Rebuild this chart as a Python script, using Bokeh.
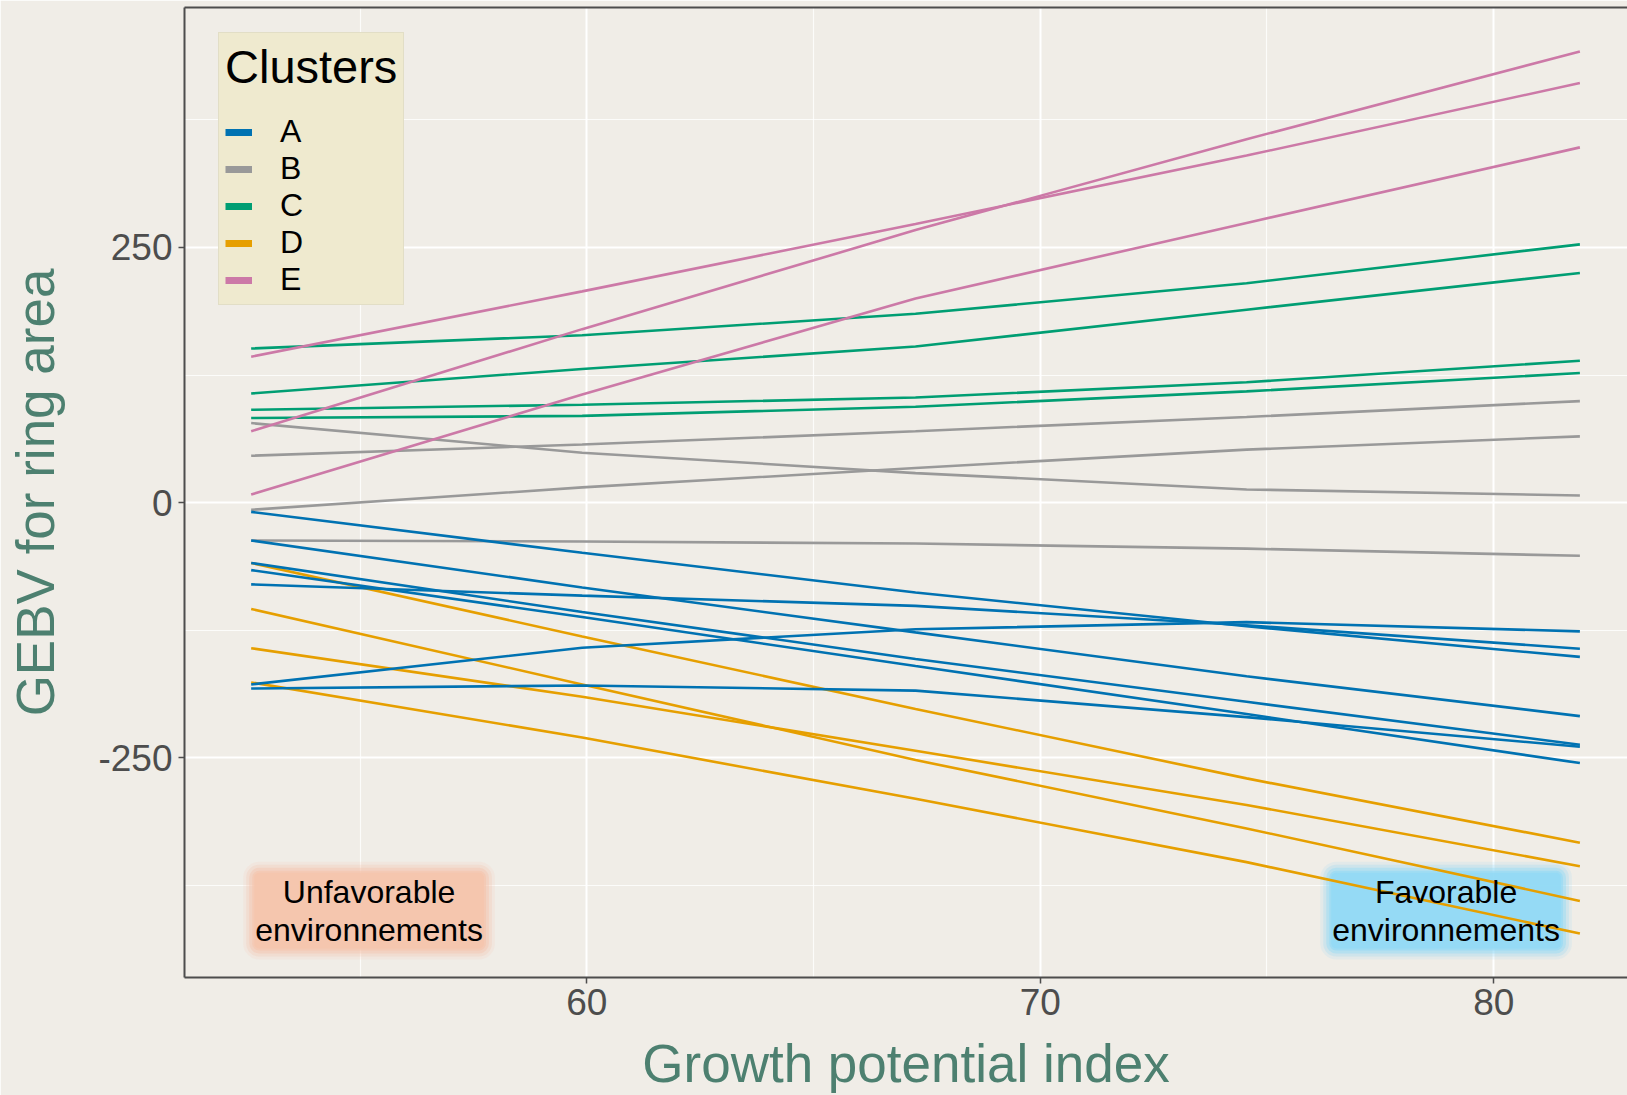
from bokeh.plotting import figure
from bokeh.models import (Range1d, FixedTicker, LinearAxis, Legend, LegendItem, Label,
                          PrintfTickFormatter)
from bokeh.embed import file_html
from bokeh.resources import INLINE

# ---------------- data ----------------
x_grid = [52.6, 59.9, 67.25, 74.55, 81.9]

cluster_names = ["A", "B", "C", "D", "E"]
cluster_colors = ["#0072B2", "#999999", "#009E73", "#E69F00", "#CC79A7"]

cluster_A = [
    [-9, -49, -88, -121, -151],
    [-37, -83, -127, -170, -209],
    [-59, -107, -153, -195, -237],
    [-66, -112, -160, -207, -255],
    [-80, -91, -101, -120, -143],
    [-178, -142, -124, -117, -126],
    [-182, -179, -184, -210, -239],
]
cluster_B = [
    [78, 49, 29, 13, 7],
    [46, 57, 70, 84, 99.5],
    [-7, 15, 34, 52, 65],
    [-37, -38, -40, -45, -52],
]
cluster_C = [
    [151, 164, 185, 215, 253],
    [107, 131, 153, 189, 225],
    [91, 96, 103, 118, 139],
    [83, 85, 94, 109, 127],
]
cluster_D = [
    [-59, -131, -202, -270, -333],
    [-104, -178, -252, -319, -390],
    [-142.5, -190, -243, -296, -356],
    [-176, -230, -290, -352, -422],
]
cluster_E = [
    [143, 207, 273, 340, 411],
    [70, 170, 267, 356, 442],
    [8, 106, 200, 274, 348],
]

x_ticks = [60, 70, 80]
x_minor = [55, 65, 75]
y_ticks = [-250, 0, 250]
y_minor = [-375, -125, 125, 375]

x_title = "Growth potential index"
y_title = "GEBV for ring area"
legend_title = "Clusters"
unfav_text = "Unfavorable\nenvironnements"
fav_text = "Favorable\nenvironnements"
unfav_pos = (55.2, -399.5)
fav_pos = (78.95, -399.5)

# ---------------- styling ----------------
BG = "#F0EDE7"
AX = "#4D4D4D"
TITLE_COL = "#4D8070"
FONT = "Liberation Sans"

p = figure(width=1627, height=1095,
           x_range=Range1d(51.13, 82.95), y_range=Range1d(-465, 485),
           output_backend="svg", toolbar_location=None,
           min_border_left=184, min_border_right=0,
           min_border_top=7, min_border_bottom=117)

p.background_fill_color = BG
p.border_fill_color = BG
p.outline_line_color = None

# axes
xa = p.xaxis[0]
xa.ticker = FixedTicker(ticks=x_ticks, minor_ticks=x_minor)
ya = p.yaxis[0]
ya.ticker = FixedTicker(ticks=y_ticks, minor_ticks=y_minor)
for ax in (xa, ya):
    ax.formatter = PrintfTickFormatter(format="%d")
    ax.axis_line_color = AX
    ax.axis_line_width = 2
    ax.major_tick_line_color = AX
    ax.major_tick_line_width = 1.5
    ax.major_tick_out = 6
    ax.major_tick_in = 0
    ax.minor_tick_line_color = None
    ax.major_label_text_font = FONT
    ax.major_label_text_font_size = "37px"
    ax.major_label_text_color = AX
    ax.axis_label_text_font = FONT
    ax.axis_label_text_font_size = "53px"
    ax.axis_label_text_font_style = "normal"
    ax.axis_label_text_color = TITLE_COL
xa.major_label_standoff = 5
ya.major_label_standoff = 6

ya.axis_label = y_title
ya.axis_label_standoff = 30
xa.axis_label = x_title
xa.axis_label_standoff = 16

top_axis = LinearAxis(ticker=FixedTicker(ticks=[]), major_tick_out=0, major_tick_in=0,
                      minor_tick_out=0, minor_tick_in=0, major_label_standoff=0,
                      major_label_text_font_size="0px",
                      axis_line_color=AX, axis_line_width=2)
p.add_layout(top_axis, "above")

# grid
for g in (p.xgrid[0], p.ygrid[0]):
    g.grid_line_color = "white"
    g.grid_line_width = 2
    g.minor_grid_line_color = "white"
    g.minor_grid_line_width = 1.2
    g.minor_grid_line_alpha = 0.8

# environment annotation glow (under the lines)
def glow(pos, text, color):
    for pad, alpha in [(12, 0.15), (9, 0.25), (6, 0.4), (3, 0.6), (1, 0.8)]:
        p.add_layout(Label(x=pos[0], y=pos[1], text=text, text_align="center",
                           text_baseline="middle", text_font=FONT, text_font_size="32px",
                           text_line_height=1.05, level="underlay",
                           text_color=color, text_alpha=0.01, background_fill_color=color,
                           background_fill_alpha=alpha, padding=pad, border_radius=pad + 4))

glow(unfav_pos, unfav_text, "#F5C4AC")
glow(fav_pos, fav_text, "#92D9F5")

# lines (draw order B, C, D, E, A)
series = dict(zip(cluster_names, [cluster_A, cluster_B, cluster_C, cluster_D, cluster_E]))
colors = dict(zip(cluster_names, cluster_colors))
for name in ["B", "C", "D", "E", "A"]:
    ys = series[name]
    p.multi_line(xs=[x_grid] * len(ys), ys=ys, line_color=colors[name], line_width=2.6)

# legend (key renderers hold no visible data)
nan = float("nan")
items = []
for name in cluster_names:
    r = p.line(x=[nan], y=[nan], line_color=colors[name], line_width=7)
    items.append(LegendItem(label=name, renderers=[r]))
legend = Legend(items=items, location=(34, 672), title=legend_title,
                background_fill_color="#EFEACF", background_fill_alpha=1,
                border_line_color="#D6D1BD", border_line_width=1.5,
                padding=6, margin=0, spacing=0,
                glyph_width=27, glyph_height=20, label_height=20,
                label_standoff=28,
                label_text_font=FONT, label_text_font_size="32px", label_text_color="black",
                title_text_font=FONT, title_text_font_size="47px", title_text_font_style="normal",
                title_text_color="black", title_standoff=19)
p.add_layout(legend)

# environment annotation texts (above the lines)
for pos, text in [(unfav_pos, unfav_text), (fav_pos, fav_text)]:
    p.add_layout(Label(x=pos[0], y=pos[1], text=text, text_align="center",
                       text_baseline="middle", text_font=FONT, text_font_size="32px",
                       text_line_height=1.05, text_color="black"))

open("out.html", "w").write(file_html(p, INLINE))
